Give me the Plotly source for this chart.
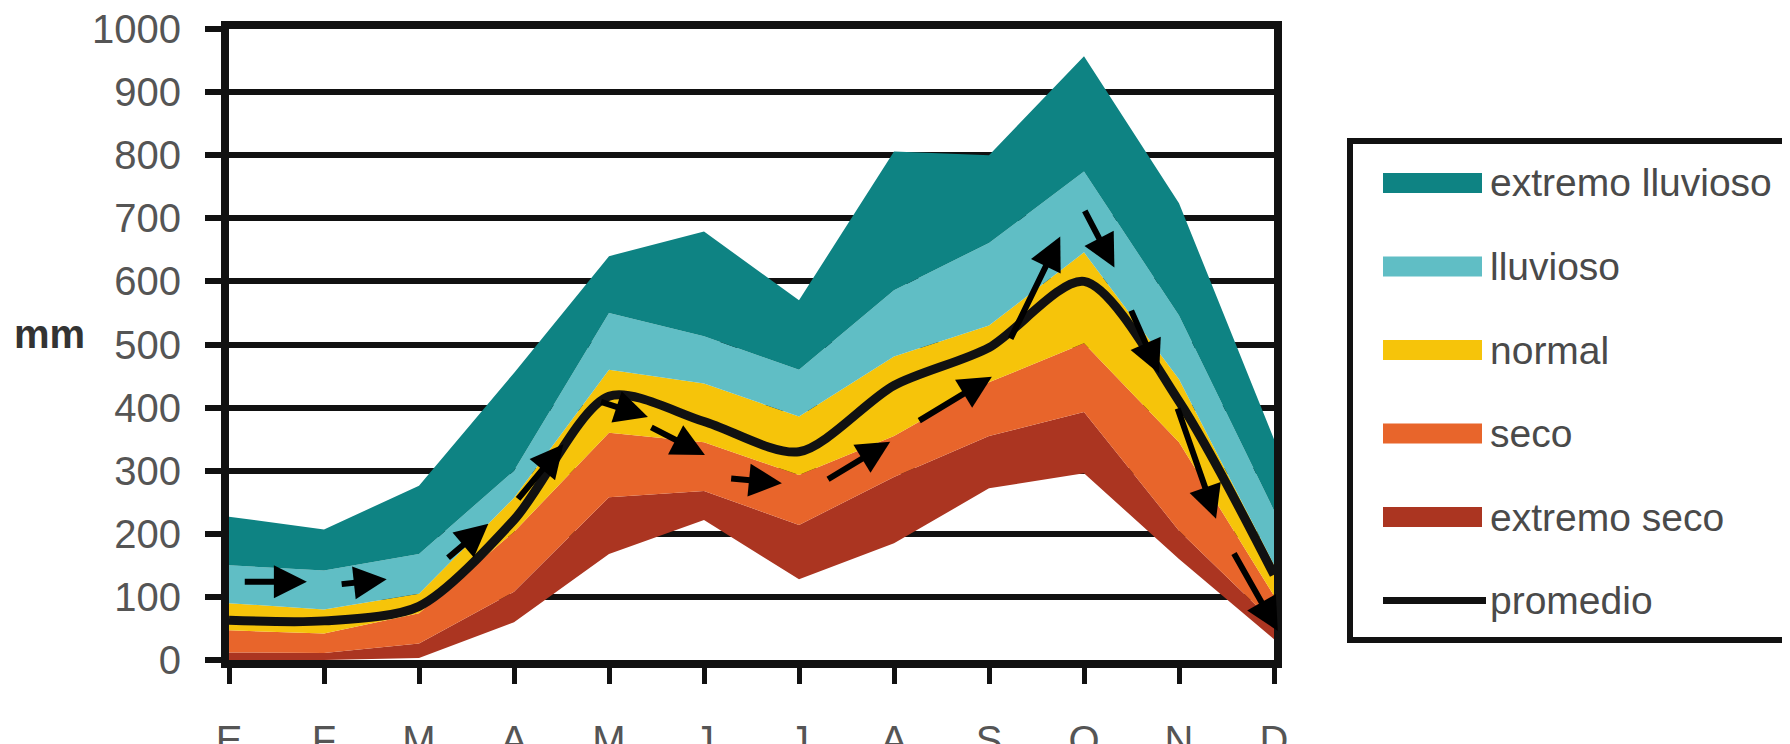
import plotly.graph_objects as go

# ---------------- data ----------------
months = ["E", "F", "M", "A", "M", "J", "J", "A", "S", "O", "N", "D"]
x_idx = list(range(len(months)))

# band boundaries (mm)
extremo_seco_low = [0, 0, 3, 60, 168, 222, 128, 185, 272, 296, 160, 33]
extremo_seco_top = [12, 11, 26, 108, 258, 268, 214, 290, 355, 393, 205, 59]
seco_top = [47, 42, 74, 203, 360, 345, 293, 355, 440, 502, 345, 102]
normal_top = [90, 80, 105, 257, 460, 438, 386, 481, 530, 646, 445, 151]
lluvioso_top = [150, 142, 168, 300, 550, 513, 460, 586, 661, 774, 546, 237]
extremo_lluvioso_top = [227, 207, 276, 455, 640, 679, 570, 806, 800, 957, 724, 350]
promedio = [63, 62, 85, 222, 418, 378, 330, 435, 495, 600, 410, 135]

# trend arrows (tail x, tail y, head x, head y) in data units
arrow_x0 = [0.15, 1.17, 2.29, 3.03, 3.90, 4.43, 5.27, 6.29, 7.25, 8.22, 9.00, 9.49, 9.98, 10.57]
arrow_y0 = [124, 120, 160, 253, 410, 370, 288, 285, 378, 507, 714, 556, 401, 171]
arrow_x1 = [0.82, 1.66, 2.73, 3.52, 4.41, 5.01, 5.82, 6.96, 8.03, 8.75, 9.32, 9.79, 10.39, 11.04]
arrow_y1 = [124, 128, 216, 342, 385, 325, 280, 346, 449, 671, 622, 454, 224, 46]

legend_labels = ["extremo lluvioso", "lluvioso", "normal", "seco", "extremo seco", "promedio"]
band_colors = {
    "extremo lluvioso": "#0e8383",
    "lluvioso": "#60bec5",
    "normal": "#f6c40a",
    "seco": "#e8652b",
    "extremo seco": "#ab3521",
}

yticks = list(range(0, 1001, 100))

# ---------------- figure ----------------
W, H = 1790, 744
OFF = 8  # page body margin offset
PW, PH = 1045, 631
ML = 229 - OFF
MT = 29 - OFF
MR = W - ML - PW
MB = H - MT - PH


def pxx(px):
    # screenshot pixel x -> paper
    return (px - OFF - ML) / PW


def pxy(py):
    # screenshot pixel y -> paper
    return (MT + PH - (py - OFF)) / PH


fig = go.Figure()

fig.add_trace(go.Scatter(x=x_idx, y=extremo_seco_low, mode="lines",
                         line=dict(width=0, color="rgba(0,0,0,0)"),
                         showlegend=False, hoverinfo="skip"))
for name, vals in [("extremo seco", extremo_seco_top), ("seco", seco_top),
                   ("normal", normal_top), ("lluvioso", lluvioso_top),
                   ("extremo lluvioso", extremo_lluvioso_top)]:
    fig.add_trace(go.Scatter(x=x_idx, y=vals, mode="lines", name=name,
                             line=dict(width=0, color=band_colors[name]),
                             fill="tonexty", fillcolor=band_colors[name],
                             showlegend=False))

fig.add_trace(go.Scatter(x=x_idx, y=promedio, mode="lines", name="promedio",
                         line=dict(width=9, color="#111111", shape="spline", smoothing=0.8),
                         showlegend=False))

annotations = []
for x0, y0, x1, y1 in zip(arrow_x0, arrow_y0, arrow_x1, arrow_y1):
    annotations.append(dict(x=x1, y=y1, ax=x0, ay=y0, xref="x", yref="y",
                            axref="x", ayref="y", text="", showarrow=True,
                            arrowhead=2, arrowsize=1.1, arrowwidth=6,
                            arrowcolor="#000000", standoff=0, startstandoff=0))

# y axis title "mm"
annotations.append(dict(text="<b>mm</b>", xref="paper", yref="paper",
                        x=pxx(49), y=pxy(334), showarrow=False,
                        xanchor="center", yanchor="middle",
                        font=dict(family="Liberation Sans, Arial", size=40, color="#333333")))

# manual legend
shapes = []
shapes.append(dict(type="rect", xref="paper", yref="paper",
                   x0=pxx(1350), x1=pxx(1786), y0=pxy(141), y1=pxy(640),
                   line=dict(color="#111111", width=6), fillcolor="white", layer="above"))
item_y0 = 183
item_step = 83.5
for i, lab in enumerate(legend_labels):
    cy = item_y0 + i * item_step
    if lab in band_colors:
        shapes.append(dict(type="rect", xref="paper", yref="paper",
                           x0=pxx(1383), x1=pxx(1482), y0=pxy(cy - 10), y1=pxy(cy + 10),
                           line=dict(width=0), fillcolor=band_colors[lab], layer="above"))
    else:
        shapes.append(dict(type="line", xref="paper", yref="paper",
                           x0=pxx(1383), x1=pxx(1486), y0=pxy(cy), y1=pxy(cy),
                           line=dict(color="#111111", width=7), layer="above"))
    annotations.append(dict(text=lab, xref="paper", yref="paper",
                            x=pxx(1488), y=pxy(cy), showarrow=False,
                            xanchor="left", yanchor="middle",
                            font=dict(family="Liberation Sans, Arial", size=39, color="#4a4a4a")))

fig.update_layout(
    width=W, height=H,
    margin=dict(l=ML, r=MR, t=MT, b=MB, pad=0, autoexpand=False),
    paper_bgcolor="white", plot_bgcolor="white",
    showlegend=False,
    annotations=annotations,
    shapes=shapes,
    xaxis=dict(range=[0, 11], tickmode="array", tickvals=x_idx, ticktext=months,
               ticks="outside", ticklen=16, tickwidth=5, tickcolor="#111111",
               showline=True, linewidth=8, linecolor="#111111", mirror=True,
               showgrid=False, zeroline=False, ticklabelstandoff=22, automargin=False,
               ticklabeloverflow="allow",
               tickfont=dict(family="Liberation Sans, Arial", size=40, color="#555555")),
    yaxis=dict(range=[0, 1000], tickmode="array", tickvals=yticks,
               ticks="outside", ticklen=16, tickwidth=6, tickcolor="#111111",
               showline=True, linewidth=8, linecolor="#111111", mirror=True,
               showgrid=True, gridcolor="#111111", gridwidth=6, zeroline=False,
               ticklabelstandoff=16, automargin=False, ticklabeloverflow="allow",
               tickfont=dict(family="Liberation Sans, Arial", size=40, color="#555555")),
)

fig.write_html("out.html")
